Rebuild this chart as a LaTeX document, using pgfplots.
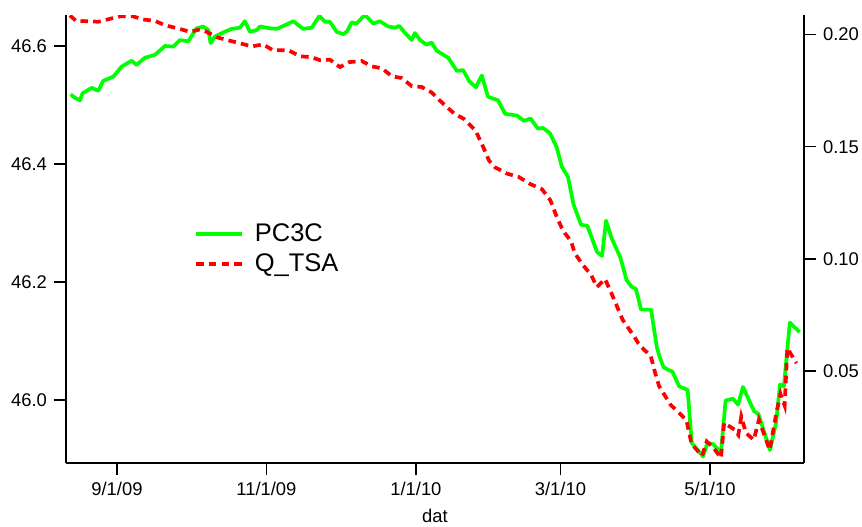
\documentclass[border=0pt]{standalone}
\usepackage{fontspec}
\setmainfont{Liberation Sans}
\usepackage{pgfplots}
\pgfplotsset{compat=1.18}
\definecolor{pcgreen}{HTML}{00FF00}
\definecolor{qred}{HTML}{FF0000}

% x = days since 9/1/09
\pgfplotsset{
  common/.style={
    at={(0pt,0pt)}, anchor=south west,
    scale only axis, width=369pt, height=224pt,
    xmin=-20.8, xmax=280.4,
    tick align=outside, major tick length=6pt,
    major tick style={black, line width=0.8pt},
    axis line style={black, line width=0.8pt},
    tick label style={font=\fontsize{9.2}{10}\selectfont},
    /pgf/number format/assume math mode=true,
  },
  pcline/.style={pcgreen, line width=1.85pt, line join=round},
  qline/.style={qred, line width=1.85pt, dash pattern=on 3.8pt off 2.6pt},
}

\begin{document}
\begin{tikzpicture}
\path[use as bounding box] (-33pt,-31.5pt) rectangle (398pt,231.5pt);
\begin{axis}[common,
  axis x line*=bottom, axis y line*=left,
  ymin=45.893, ymax=46.6525,
  ytick={46.0,46.2,46.4,46.6},
  yticklabel style={/pgf/number format/.cd, fixed, fixed zerofill, precision=1},
  xtick={0,61,122,181,242},
  xticklabels={9/1/09,11/1/09,1/1/10,3/1/10,5/1/10},
  xlabel={dat},
  xlabel style={font=\fontsize{9.2}{10}\selectfont},
]
\addplot[pcline] coordinates {
(-18.9,46.518) (-17.1,46.512) (-15.1,46.508) (-14.0,46.520) (-10.3,46.529)
(-7.6,46.524) (-5.6,46.541) (-1.5,46.548) (1.9,46.565) (6.0,46.575)
(8.0,46.568) (11.4,46.580) (15.5,46.585) (19.6,46.600) (23.0,46.599)
(25.7,46.610) (29.1,46.608) (32.5,46.630) (35.2,46.633) (37.3,46.627)
(38.2,46.605) (40.0,46.616) (43.4,46.623) (46.8,46.629) (50.2,46.631)
(52.2,46.642) (54.3,46.624) (57.0,46.627) (58.4,46.633) (62.4,46.630)
(65.2,46.629) (67.9,46.634) (72.0,46.642) (76.0,46.629) (79.5,46.631)
(82.6,46.651) (84.9,46.641) (86.9,46.641) (89.7,46.624) (92.4,46.620)
(94.0,46.625) (95.8,46.640) (97.8,46.638) (101.2,46.653) (104.6,46.638)
(107.3,46.642) (110.7,46.633) (113.5,46.631) (115.2,46.634) (117.6,46.622)
(120.3,46.610) (121.6,46.622) (123.7,46.610) (126.4,46.602) (128.4,46.606)
(130.5,46.592) (135.2,46.580) (138.7,46.558) (141.3,46.559) (143.8,46.540)
(146.5,46.530) (148.9,46.550) (151.4,46.514) (155.5,46.508) (158.4,46.485)
(163.3,46.482) (166.1,46.473) (168.8,46.477) (171.8,46.460) (173.9,46.461)
(176.7,46.452) (179.4,46.429) (181.6,46.395) (184.1,46.378) (186.3,46.332)
(189.4,46.297) (192.0,46.295) (195.9,46.251) (198.0,46.244) (199.6,46.304)
(201.8,46.275) (205.5,46.241) (208.0,46.203) (210.0,46.192) (211.8,46.188)
(213.9,46.153) (218.0,46.153) (220.3,46.090) (221.4,46.074) (223.0,46.056)
(224.9,46.051) (226.7,46.048) (229.4,46.023) (232.9,46.017) (234.6,45.927)
(239.2,45.904) (241.0,45.927) (243.3,45.925) (246.5,45.911) (248.4,45.999)
(251.4,46.002) (253.5,45.992) (255.5,46.022) (260.0,45.981) (261.8,45.976)
(266.5,45.915) (269.0,45.961) (270.6,46.026) (272.2,46.023) (274.6,46.131)
(278.6,46.115)
};
\end{axis}
\begin{axis}[common,
  axis x line=none, axis y line*=right,
  ymin=0.009, ymax=0.2087,
  ytick={0.05,0.10,0.15,0.20},
  yticklabel style={/pgf/number format/.cd, fixed, fixed zerofill, precision=2},
  legend style={draw=none, fill=none, at={(0.165,0.553)}, anchor=north west,
    font=\fontsize{12.75}{15}\selectfont, row sep=0.5pt,
    /tikz/every odd column/.append style={column sep=3.5pt}},
  legend cell align=left,
  legend image code/.code={\draw[#1] (0pt,0pt) -- (23pt,0pt);},
]
\addlegendimage{pcline}
\addlegendentry{PC3C}
\addplot[qline] coordinates {
(-19.2,0.2085) (-16.4,0.2058) (-13.8,0.2060) (-7.6,0.2057) (-2.9,0.2070)
(1.9,0.2082) (6.5,0.2081) (10.7,0.2067) (15.5,0.2061) (19.6,0.2041)
(25.0,0.2027) (29.8,0.2012) (33.9,0.2023) (36.6,0.2012) (40.7,0.1988)
(44.1,0.1978) (49.5,0.1963) (55.0,0.1947) (59.7,0.1956) (63.8,0.1929)
(69.8,0.1931) (74.7,0.1903) (79.5,0.1899) (82.9,0.1885) (86.9,0.1888)
(91.0,0.1855) (94.8,0.1877) (99.9,0.1882) (104.0,0.1858) (108.2,0.1849)
(112.2,0.1814) (116.2,0.1806) (120.3,0.1770) (124.4,0.1766) (128.4,0.1742)
(132.9,0.1694) (137.7,0.1647) (141.6,0.1624) (146.3,0.1573) (149.7,0.1493)
(151.8,0.1439) (154.3,0.1408) (159.2,0.1380) (164.0,0.1365) (168.8,0.1333)
(173.5,0.1310) (176.9,0.1261) (179.5,0.1187) (181.4,0.1141) (182.9,0.1113)
(185.3,0.1079) (186.9,0.1024) (190.2,0.0972) (193.5,0.0929) (195.9,0.0874)
(199.2,0.0910) (201.8,0.0847) (206.4,0.0728) (211.1,0.0654) (212.8,0.0623)
(215.2,0.0594) (217.8,0.0569) (220.2,0.0469) (221.3,0.0432) (225.9,0.0350)
(232.4,0.0282) (234.5,0.0175) (238.8,0.0122) (240.7,0.0186) (243.6,0.0156)
(246.5,0.0112) (247.8,0.0269) (252.0,0.0239) (253.6,0.0215) (254.8,0.0297)
(256.7,0.0224) (259.9,0.0193) (262.0,0.0282) (266.4,0.0148) (269.1,0.0312)
(270.8,0.0398) (272.5,0.0346) (273.6,0.0602) (277.3,0.0535)
};
\addlegendentry{Q\_TSA}
\end{axis}
\end{tikzpicture}
\end{document}
